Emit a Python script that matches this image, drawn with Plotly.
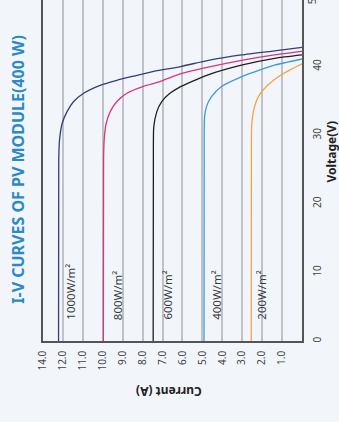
import plotly.graph_objects as go

# Irradiance levels and their I-V curves (voltage in V, current in A)
irradiance = ["1000W/m²", "800W/m²", "600W/m²", "400W/m²", "200W/m²"]
colors = ["#363b7c", "#d8357f", "#231f20", "#3b9ad6", "#f0a443"]

v_1000 = [0, 26.4, 29.3, 31.7, 33.4, 34.9, 36.1, 37.3, 38.0, 38.6, 39.2, 40.0, 40.9, 41.7, 42.3, 42.8]
i_1000 = [12.22, 12.21, 12.17, 12.04, 11.8, 11.46, 10.96, 10.1, 9.29, 8.46, 7.6, 6.1, 4.7, 3.04, 1.38, 0]

v_800 = [0, 26.4, 29.3, 31.7, 33.4, 34.9, 36.1, 37.1, 37.8, 38.8, 39.9, 40.9, 41.7, 42.2]
i_800 = [9.97, 9.96, 9.93, 9.83, 9.63, 9.29, 8.79, 7.96, 7.13, 6.25, 4.71, 3.04, 1.38, 0]

v_600 = [0, 26.4, 31.2, 33.4, 34.9, 36.1, 36.9, 37.8, 38.8, 40.2, 41.2, 41.7]
i_600 = [7.47, 7.46, 7.44, 7.29, 7.04, 6.63, 6.2, 5.54, 4.71, 3.04, 1.38, 0]

v_400 = [0, 26.4, 32.7, 34.2, 35.6, 37.1, 38.5, 39.4, 40.2, 41.1]
i_400 = [4.92, 4.91, 4.89, 4.79, 4.54, 4.04, 3.04, 2.21, 1.38, 0]

v_200 = [0, 26.4, 31.7, 34.2, 35.9, 37.3, 38.8, 40.4]
i_200 = [2.55, 2.54, 2.52, 2.38, 2.13, 1.71, 1.04, 0]

voltages = [v_1000, v_800, v_600, v_400, v_200]
currents = [i_1000, i_800, i_600, i_400, i_200]

# Label anchor per curve (current, voltage)
label_current = [11.6, 9.29, 6.76, 4.29, 2.04]
label_voltage = [2.8, 2.8, 2.8, 2.8, 2.8]

# Axis ticks
current_ticks = [13, 12, 11, 10, 9, 8, 7, 6, 5, 4, 3, 2, 1]
current_labels = ["14.0", "12.0", "11.0", "10.0", "9.0", "8.0", "7.0", "6.0", "5.0", "4.0", "3.0", "2.0", "1.0"]
voltage_ticks = [0, 10, 20, 30, 40]
voltage_labels = ["0", "10", "20", "30", "40"]

BG = "#f2f6fa"
FONT = "Noto Sans"

fig = go.Figure()
for name, v, i, c in zip(irradiance, voltages, currents, colors):
    fig.add_trace(go.Scatter(
        x=i, y=v, mode="lines", name=name,
        line=dict(color=c, width=1.3, shape="spline", smoothing=0.6),
        hoverinfo="skip",
    ))

annotations = []
for name, lc, lv in zip(irradiance, label_current, label_voltage):
    annotations.append(dict(
        x=lc, y=lv, xref="x", yref="y", text=name, showarrow=False,
        textangle=-90, xanchor="center", yanchor="bottom",
        font=dict(family=FONT, size=11.5, color="#3a3a3a"),
    ))

# Title and axis titles
annotations.append(dict(
    x=-0.097, y=0.505, xref="paper", yref="paper",
    text="<b>I-V CURVES OF PV MODULE(400 W)</b>", showarrow=False,
    textangle=-90, xanchor="center", yanchor="middle",
    font=dict(family=FONT, size=16, color="#2a8ac6"),
))
annotations.append(dict(
    x=1.114, y=0.554, xref="paper", yref="paper",
    text="<b>Voltage(V)</b>", showarrow=False,
    textangle=-90, xanchor="center", yanchor="middle",
    font=dict(family=FONT, size=12, color="#222222"),
))
annotations.append(dict(
    x=0.486, y=-0.15, xref="paper", yref="paper",
    text="<b>Current (A)</b>", showarrow=False,
    textangle=180, xanchor="center", yanchor="middle",
    font=dict(family=FONT, size=12, color="#222222"),
))
# Topmost voltage tick, partly beyond the frame
annotations.append(dict(
    x=1.04, y=50 / 49.7, xref="paper", yref="paper",
    text="50", showarrow=False, textangle=-90,
    xanchor="center", yanchor="middle",
    font=dict(family=FONT, size=10, color="#444444"),
))

fig.update_layout(
    width=339, height=422,
    margin=dict(l=43, r=37, t=0, b=81),
    paper_bgcolor=BG, plot_bgcolor=BG,
    showlegend=False,
    annotations=annotations,
    xaxis=dict(
        range=[13, 0],
        tickvals=current_ticks, ticktext=current_labels,
        tickangle=-90, ticks="", ticklabelstandoff=4,
        tickfont=dict(family=FONT, size=10, color="#444444"),
        showgrid=True, gridcolor="#bfc2c6", gridwidth=1.6,
        showline=True, linecolor="#555555", linewidth=1.5,
        zeroline=False,
    ),
    yaxis=dict(
        range=[0, 49.7], side="right",
        tickvals=voltage_ticks, ticktext=voltage_labels,
        tickangle=-90, ticks="", ticklabelstandoff=5,
        tickfont=dict(family=FONT, size=10, color="#444444"),
        showgrid=False,
        showline=True, mirror=True, linecolor="#555555", linewidth=1.5,
        zeroline=False,
    ),
)

fig.write_html("out.html")
